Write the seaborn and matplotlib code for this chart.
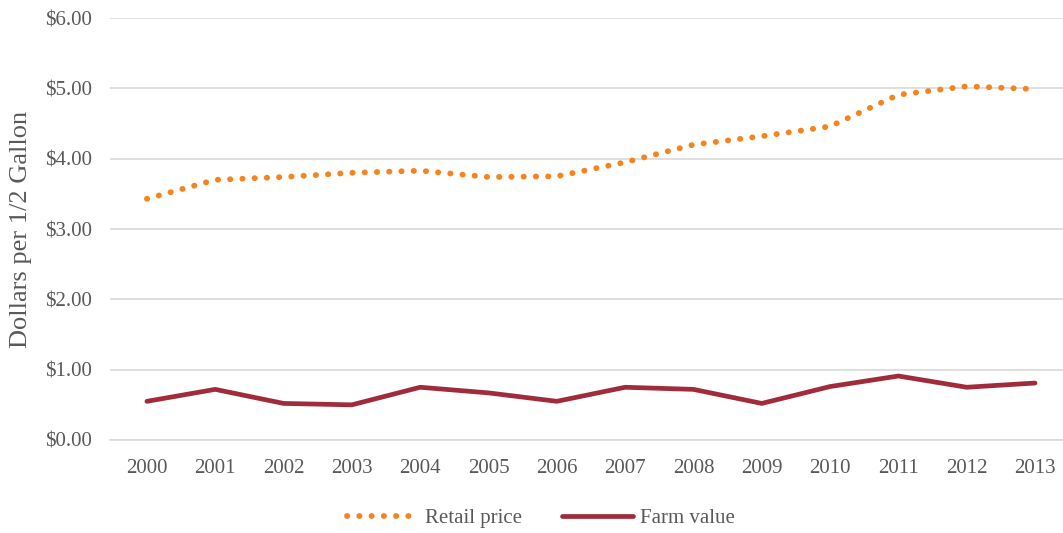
import matplotlib
matplotlib.use("Agg")
import pandas as pd
import seaborn as sns
import matplotlib.pyplot as plt
from matplotlib.ticker import FuncFormatter

years = [str(y) for y in range(2000, 2014)]
retail_price = [3.43, 3.70, 3.74, 3.80, 3.83, 3.74, 3.75, 3.95, 4.20, 4.32, 4.46, 4.91, 5.03, 4.99]
farm_value = [0.55, 0.72, 0.52, 0.50, 0.75, 0.67, 0.55, 0.75, 0.72, 0.52, 0.76, 0.91, 0.75, 0.81]

df = pd.DataFrame({"Year": years, "Retail price": retail_price, "Farm value": farm_value})
long_df = df.melt(id_vars="Year", var_name="Series", value_name="Value")

sns.set_style("white")
plt.rcParams["font.family"] = ["Liberation Serif", "DejaVu Serif"]
text_color = "#595959"

fig = plt.figure(figsize=(10.63, 5.33), dpi=100)
ax = fig.add_axes([0.1035, 0.1745, 0.8965, 0.7915])

palette = {"Retail price": "#F5841F", "Farm value": "#A02B3B"}
sns.lineplot(data=long_df, x="Year", y="Value", hue="Series", palette=palette,
             sort=False, ax=ax, legend=False)

retail_line, farm_line = ax.lines[0], ax.lines[1]
retail_line.set_linestyle((0, (0.05, 2.05)))
retail_line.set_linewidth(4.2)
retail_line.set_dash_capstyle("round")
farm_line.set_linewidth(3.4)
farm_line.set_solid_capstyle("round")
farm_line.set_solid_joinstyle("round")

ax.set_ylim(0, 6)
ax.set_xlim(-0.54, 13.41)
ax.set_yticks([0, 1, 2, 3, 4, 5, 6])
ax.yaxis.set_major_formatter(FuncFormatter(lambda v, p: f"${v:.2f}"))
ax.grid(axis="y", color="#D9D9D9", linewidth=1.2)
ax.set_axisbelow(True)
for side in ["top", "right", "left"]:
    ax.spines[side].set_visible(False)
ax.spines["bottom"].set_color("#D9D9D9")
ax.spines["bottom"].set_linewidth(1.2)
ax.tick_params(axis="both", length=0, labelsize=15, colors=text_color)
ax.tick_params(axis="x", pad=14)
ax.tick_params(axis="y", pad=13)
ax.set_xlabel("")
ax.set_ylabel("Dollars per 1/2 Gallon", fontsize=19, color=text_color)
ax.yaxis.set_label_coords(-0.082, 0.5)

handles = [retail_line, farm_line]
leg = fig.legend(handles, ["Retail price", "Farm value"], loc="center",
                 bbox_to_anchor=(0.509, 0.027), ncol=2, frameon=False,
                 fontsize=15, handlelength=3.4, handletextpad=0.35, columnspacing=1.9)
for t in leg.get_texts():
    t.set_color(text_color)

plt.savefig("out.png", dpi=100)
plt.close()
